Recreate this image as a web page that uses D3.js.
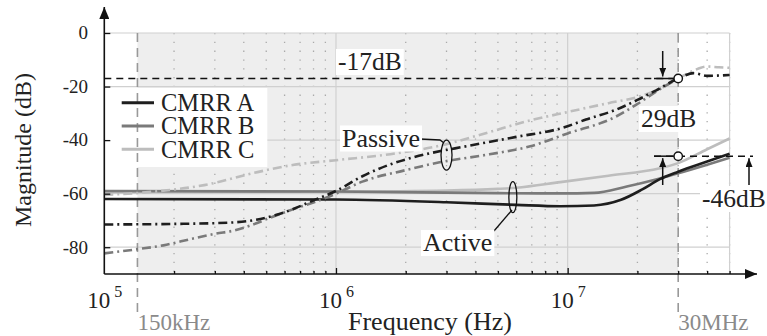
<!DOCTYPE html>
<html>
<head>
<meta charset="utf-8">
<script src="https://cdn.jsdelivr.net/npm/d3@7"></script>
<style>
  body { margin: 0; background: #fff; }
  svg { display: block; }
  svg text { font-family: "Liberation Serif", "Times New Roman", serif; }
</style>
</head>
<body>
<svg id="chart" width="767" height="336"></svg>
<script>
// ---------------------------------------------------------------- data
let freqActiveA = [1e5, 1e6, 3e6, 6e6, 9.3e6, 1.3e7, 1.7e7, 2.1e7, 2.5e7, 3e7, 4e7, 5e7];
let activeA     = [-62, -62.2, -63.2, -64.2, -64.7, -64.4, -62.3, -58.4, -54.6, -51.8, -48, -45.1];

let freqActiveB = [1e5, 1e6, 5e6, 9.3e6, 1.3e7, 1.8e7, 2.5e7, 3e7, 4e7, 5e7];
let activeB     = [-59, -59.2, -59.8, -59.9, -59.7, -57.3, -54.3, -52.4, -49.2, -46.6];

let freqActiveC = [1e5, 1e6, 3e6, 5e6, 6e6, 9.3e6, 1.5e7, 2.5e7, 3e7, 4e7, 5e7];
let activeC     = [-59.4, -59.2, -58.8, -58.2, -57.8, -55.7, -53.3, -50.5, -48.6, -43.4, -39.4];

let freqPassiveA = [1e5, 2e5, 3.5e5, 4.5e5, 5.5e5, 6.5e5, 8e5, 1e6, 1.3e6, 1.75e6, 2.1e6, 3.8e6, 6e6, 9.6e6, 1.2e7, 1.6e7, 2e7, 2.4e7, 3e7, 3.5e7, 4e7, 5e7];
let passiveA     = [-71.5, -71.3, -70.8, -69.8, -68, -65.8, -62.5, -59, -53.5, -48.8, -46.7, -42, -38.8, -35.3, -32.3, -28.8, -25, -21.5, -17, -15, -16, -15.7];

let freqPassiveB = [1e5, 1.4e5, 1.8e5, 2.4e5, 3e5, 3.7e5, 4.3e5, 5.3e5, 6.7e5, 8.1e5, 1e6, 1.3e6, 2e6, 2.8e6, 4.6e6, 6.9e6, 1e7, 1.6e7, 2e7, 2.5e7, 3e7];
let passiveB     = [-82.3, -80.7, -79.3, -76.8, -75, -73.6, -71.8, -68.7, -65.5, -63.1, -60, -55.5, -51.2, -48.3, -45.3, -42.3, -37.5, -31.4, -26.5, -21, -17];

let freqPassiveC = [1e5, 1.6e5, 2.7e5, 4.4e5, 6.5e5, 1e6, 1.8e6, 3e6, 4.2e6, 7e6, 1e7, 1.5e7, 2e7, 2.5e7, 3e7, 3.5e7, 4e7, 4.5e7, 5e7];
let passiveC     = [-60.5, -59.3, -56.8, -52.3, -49.3, -47.5, -45, -41.5, -38, -32.5, -29.5, -26.2, -23.9, -20.8, -17, -14, -12.5, -12.8, -13];

let legendNames = ["CMRR A", "CMRR B", "CMRR C"];
let yTickValues = [0, -20, -40, -60, -80];
let decades = [1e5, 1e6, 1e7];
let decadeExp = ["5", "6", "7"];
let bandStart = 1.39e5, bandEnd = 3e7;     // 150kHz .. 30MHz marks as drawn
let limitTop = -17, limitBottom = -46;

// ---------------------------------------------------------------- scales
let svg = d3.select("#chart");
let x = d3.scaleLog().domain([1e5, 5e7]).range([104.3, 729.6]);
let y = d3.scaleLinear().domain([-90, 0]).range([274, 33]);
let x0 = x.range()[0], x1 = x.range()[1], yTop = y(0), yBot = y(-90);

let defs = svg.append("defs");
defs.append("marker").attr("id", "bigArrow").attr("viewBox", "0 0 12 10")
    .attr("refX", 12).attr("refY", 5).attr("markerWidth", 13).attr("markerHeight", 10)
    .attr("markerUnits", "userSpaceOnUse").attr("orient", "auto")
    .append("path").attr("d", "M0,0 L12,5 L0,10 z").attr("fill", "#111");
defs.append("marker").attr("id", "smallArrow").attr("viewBox", "0 0 10 8")
    .attr("refX", 10).attr("refY", 4).attr("markerWidth", 9).attr("markerHeight", 7)
    .attr("markerUnits", "userSpaceOnUse").attr("orient", "auto")
    .append("path").attr("d", "M0,0 L10,4 L0,8 z").attr("fill", "#111");

// shaded band
svg.append("rect").attr("x", x(bandStart)).attr("y", yTop)
    .attr("width", x(bandEnd) - x(bandStart)).attr("height", yBot - yTop).attr("fill", "#eeeeee");

// minor / major tick values
let minorTicks = [];
for (let d of decades) for (let k = 2; k <= 9; k++) if (k * d <= 5e7) minorTicks.push(k * d);

// grid
let grid = svg.append("g");
grid.selectAll(".minor").data(minorTicks).enter().append("line")
    .attr("x1", d => x(d)).attr("x2", d => x(d)).attr("y1", yTop).attr("y2", yBot)
    .attr("stroke", "#aaa").attr("stroke-width", 1.3).attr("stroke-dasharray", "1.3,7.5");
grid.selectAll(".major").data([1e6, 1e7, 5e7]).enter().append("line")
    .attr("x1", d => x(d)).attr("x2", d => x(d)).attr("y1", yTop).attr("y2", yBot)
    .attr("stroke", "#d0d0d0").attr("stroke-width", 1.2);
grid.selectAll(".hgrid").data(yTickValues).enter().append("line")
    .attr("x1", x0).attr("x2", x1).attr("y1", d => y(d)).attr("y2", d => y(d))
    .attr("stroke", "#d0d0d0").attr("stroke-width", 1.2);

// legend box (white, over grid)
svg.append("rect").attr("x", x0).attr("y", 88).attr("width", 163).attr("height", 79).attr("fill", "#fff");

// 150kHz and 30MHz marker lines
svg.selectAll(".band").data([bandStart, bandEnd]).enter().append("line")
    .attr("x1", d => x(d)).attr("x2", d => x(d)).attr("y1", yTop).attr("y2", 312)
    .attr("stroke", "#999").attr("stroke-width", 1.6).attr("stroke-dasharray", "9,6");

// curves
let colors = ["#1e1e1e", "#7a7a7a", "#bdbdbd"];
let series = [
    {f: freqActiveC, v: activeC, c: colors[2], dash: null},
    {f: freqActiveB, v: activeB, c: colors[1], dash: null},
    {f: freqActiveA, v: activeA, c: colors[0], dash: null},
    {f: freqPassiveC, v: passiveC, c: colors[2], dash: "9,4,2,4"},
    {f: freqPassiveB, v: passiveB, c: colors[1], dash: "9,4,2,4"},
    {f: freqPassiveA, v: passiveA, c: colors[0], dash: "9,4,2,4"}
];
let line = d3.line().x(d => x(d[0])).y(d => y(d[1])).curve(d3.curveMonotoneX);
svg.append("g").selectAll("path").data(series).enter().append("path")
    .attr("d", s => line(s.f.map((f, i) => [f, s.v[i]])))
    .attr("fill", "none").attr("stroke", s => s.c).attr("stroke-width", 2.6)
    .attr("stroke-dasharray", s => s.dash);

// legend
let leg = svg.append("g").selectAll("g").data(legendNames).enter().append("g")
    .attr("transform", (d, i) => "translate(0," + (102.7 + i * 23.3) + ")");
leg.append("line").attr("x1", 121.7).attr("x2", 154).attr("stroke", (d, i) => colors[i]).attr("stroke-width", 3);
leg.append("text").attr("x", 161).attr("y", 8.2).attr("font-size", 24.5).attr("fill", "#222").text(d => d);

// limit lines
let ann = svg.append("g");
ann.append("line").attr("x1", x0).attr("x2", x(bandEnd)).attr("y1", y(limitTop)).attr("y2", y(limitTop))
    .attr("stroke", "#111").attr("stroke-width", 1.5).attr("stroke-dasharray", "7,5");
ann.append("line").attr("x1", 654).attr("x2", 753).attr("y1", y(limitBottom)).attr("y2", y(limitBottom))
    .attr("stroke", "#111").attr("stroke-width", 1.5).attr("stroke-dasharray", "7,5");
ann.append("line").attr("x1", 654).attr("x2", x(bandEnd)).attr("y1", y(limitTop)).attr("y2", y(limitTop))
    .attr("stroke", "#111").attr("stroke-width", 1.5);
ann.append("line").attr("x1", 654).attr("x2", x(bandEnd)).attr("y1", y(limitBottom)).attr("y2", y(limitBottom))
    .attr("stroke", "#111").attr("stroke-width", 1.5);
ann.selectAll("circle").data([limitTop, limitBottom]).enter().append("circle")
    .attr("cx", x(bandEnd)).attr("cy", d => y(d)).attr("r", 4.2)
    .attr("fill", "#fff").attr("stroke", "#111").attr("stroke-width", 1.4);

// arrows
ann.append("line").attr("x1", 662.7).attr("x2", 662.7).attr("y1", 51).attr("y2", y(limitTop) - 2)
    .attr("stroke", "#111").attr("stroke-width", 1.5).attr("marker-end", "url(#smallArrow)");
[662.7, 749].forEach(ax => {
    ann.append("line").attr("x1", ax).attr("x2", ax).attr("y1", 185).attr("y2", y(limitBottom) + 2)
        .attr("stroke", "#111").attr("stroke-width", 1.5).attr("marker-end", "url(#smallArrow)");
});

// ellipses + leaders
ann.append("ellipse").attr("cx", x(3e6)).attr("cy", y(-45.6)).attr("rx", 5.5).attr("ry", 15)
    .attr("fill", "none").attr("stroke", "#111").attr("stroke-width", 1.3);
ann.append("polyline").attr("points", "420,139 440,140 444,143")
    .attr("fill", "none").attr("stroke", "#111").attr("stroke-width", 1.3);
ann.append("ellipse").attr("cx", x(5.8e6)).attr("cy", y(-61.3)).attr("rx", 4).attr("ry", 15.5)
    .attr("fill", "none").attr("stroke", "#111").attr("stroke-width", 1.3);
ann.append("line").attr("x1", 494).attr("y1", 231).attr("x2", 512).attr("y2", 210)
    .attr("stroke", "#111").attr("stroke-width", 1.3);

// labels with white boxes
function boxedLabel(text, lx, ly, size) {
    let g = ann.append("g");
    let t = g.append("text").attr("x", lx).attr("y", ly).attr("font-size", size).attr("fill", "#222").text(text);
    let b = t.node().getBBox();
    g.insert("rect", "text").attr("x", b.x - 2).attr("y", b.y + 2).attr("width", b.width + 4)
        .attr("height", b.height - 3).attr("fill", "#fff");
}
boxedLabel("-17dB", 338, 70, 25.5);
boxedLabel("29dB", 641, 127, 25.5);
boxedLabel("-46dB", 702, 207, 25.5);
boxedLabel("Passive", 342, 146.5, 26);
boxedLabel("Active", 423, 251, 26);

// axes
let axisX = svg.append("g").attr("transform", "translate(0," + yBot + ")");
axisX.call(d3.axisTop(x).tickValues(minorTicks).tickSize(3).tickSizeOuter(0).tickFormat(""));
axisX.select(".domain").remove();
axisX.selectAll("line").attr("stroke", "#111").attr("stroke-width", 1.3);
let axisXMajor = svg.append("g").attr("transform", "translate(0," + yBot + ")");
axisXMajor.call(d3.axisTop(x).tickValues([1e6, 1e7]).tickSize(6).tickSizeOuter(0).tickFormat(""));
axisXMajor.select(".domain").remove();
axisXMajor.selectAll("line").attr("stroke", "#111").attr("stroke-width", 1.3);

let axisY = svg.append("g").attr("transform", "translate(" + x0 + ",0)");
axisY.call(d3.axisRight(y).tickValues(yTickValues).tickSize(6).tickSizeOuter(0).tickFormat(""));
axisY.select(".domain").remove();
axisY.selectAll("line").attr("stroke", "#111").attr("stroke-width", 1.3);

svg.append("line").attr("x1", x0).attr("x2", 757).attr("y1", yBot).attr("y2", yBot)
    .attr("stroke", "#111").attr("stroke-width", 1.6).attr("marker-end", "url(#bigArrow)");
svg.append("line").attr("x1", x0).attr("x2", x0).attr("y1", yBot).attr("y2", 7)
    .attr("stroke", "#111").attr("stroke-width", 1.6).attr("marker-end", "url(#bigArrow)");

// tick labels
svg.append("g").selectAll("text").data(yTickValues).enter().append("text")
    .attr("x", 88).attr("y", d => y(d) + 6.3).attr("text-anchor", "end")
    .attr("font-size", 19).attr("fill", "#222").text(d => d === 0 ? "0" : String(d));

let xl = svg.append("g").selectAll("text").data(decades).enter().append("text")
    .attr("x", d => x(d) - 17).attr("y", 308).attr("font-size", 23).attr("fill", "#222");
xl.append("tspan").text("10");
xl.append("tspan").attr("dx", 4).attr("dy", -11).attr("font-size", 16).text((d, i) => decadeExp[i]);

svg.append("text").attr("x", x(bandStart)).attr("y", 330).attr("font-size", 23).attr("fill", "#8a8a8a").text("150kHz");
svg.append("text").attr("x", x(bandEnd)).attr("y", 330).attr("font-size", 23).attr("fill", "#8a8a8a").text("30MHz");
svg.append("text").attr("x", 348).attr("y", 330).attr("font-size", 26).attr("fill", "#222").text("Frequency (Hz)");
svg.append("text").attr("transform", "translate(31,150) rotate(-90)").attr("text-anchor", "middle")
    .attr("font-size", 24).attr("fill", "#222").text("Magnitude (dB)");
</script>
</body>
</html>
